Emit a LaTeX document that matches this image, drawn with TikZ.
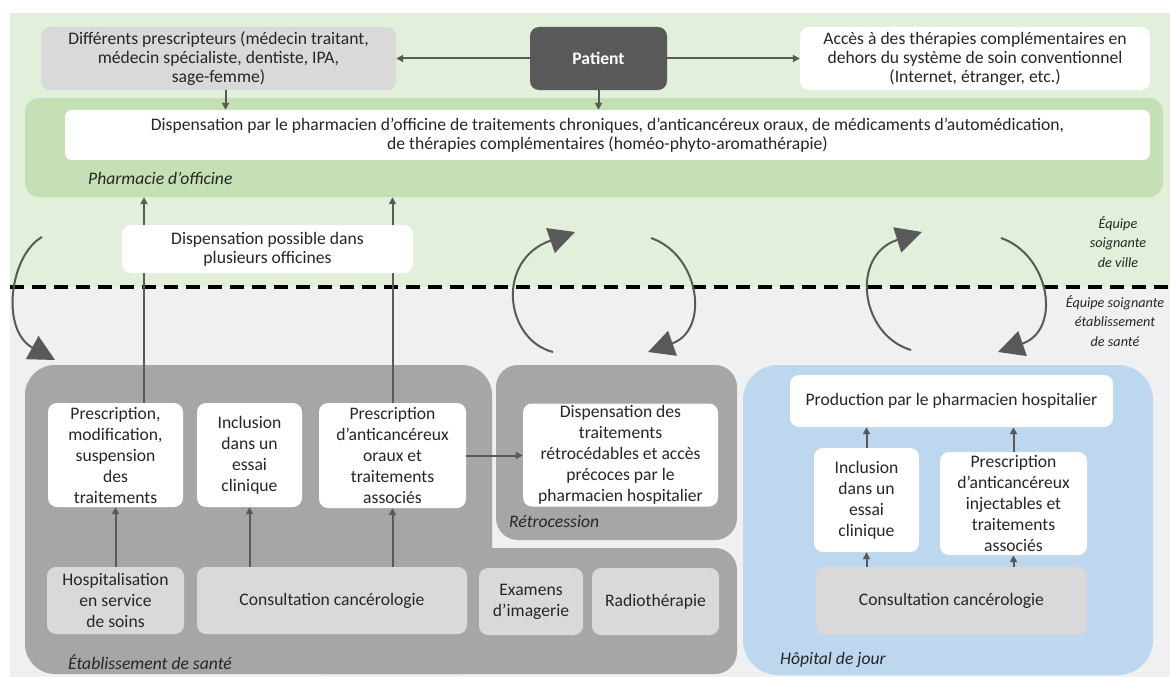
\documentclass[tikz,border=0pt]{standalone}
\usepackage{fontspec}
\setmainfont{Carlito}
\usetikzlibrary{positioning, arrows.meta}

\definecolor{villegreen}{HTML}{E2EFDA}
\definecolor{bandgreen}{HTML}{C5E0B4}
\definecolor{floorgrey}{HTML}{F0F0F0}
\definecolor{etabgrey}{HTML}{A6A6A6}
\definecolor{boxgrey}{HTML}{D9D9D9}
\definecolor{darkbox}{HTML}{595959}
\definecolor{hdjblue}{HTML}{BDD7EE}
\definecolor{arrowgrey}{HTML}{595959}
\definecolor{txtgrey}{HTML}{262626}

\begin{document}
\begin{tikzpicture}[x=1pt, y=-1pt, text=txtgrey, font=\fontsize{17.6}{21}\selectfont,
    whitebox/.style={fill=white, rounded corners=9pt, align=center, inner sep=0pt},
    greybox/.style={fill=boxgrey, rounded corners=9pt, align=center, inner sep=0pt},
    toptext/.style={font=\fontsize{17.6}{19}\selectfont},
    zonelabel/.style={font=\fontsize{17.6}{19}\selectfont\itshape, anchor=west, inner sep=0pt},
    teamlabel/.style={font=\fontsize{14.2}{19.5}\selectfont\itshape, align=center, inner sep=0pt},
    flow/.style={draw=arrowgrey, line width=2pt, -{Triangle[length=7pt,width=7pt]}},
    bigarrow/.style={draw=arrowgrey, line width=2pt, -{Triangle[length=26pt,width=26pt]}}]
    \useasboundingbox (0,0) rectangle (1170,677);
    % ville / etablissement backgrounds
    \fill[villegreen] (10,13) rectangle (1170,287);
    \fill[floorgrey] (10,287) rectangle (1170,677);
    \draw[black, line width=3.5pt, dash pattern=on 14pt off 8pt] (10,287) -- (1170,287);

    % top row
    \node[greybox, toptext, minimum width=355, minimum height=63] (prescr) at (218.5,58.5) {Différents prescripteurs (médecin traitant,\\médecin spécialiste, dentiste, IPA,\\sage-femme)};
    \node[fill=darkbox, rounded corners=9pt, minimum width=137, minimum height=63, text=white, font=\fontsize{17.6}{19}\selectfont\bfseries] (patient) at (598.5,58.5) {Patient};
    \node[whitebox, toptext, minimum width=350, minimum height=63] (acces) at (975,58.5) {Accès à des thérapies complémentaires en\\dehors du système de soin conventionnel\\(Internet, étranger, etc.)};

    % pharmacie d'officine
    \node[fill=bandgreen, rounded corners=14pt, minimum width=1138, minimum height=99, inner sep=0pt] (officine) at (594,147.5) {};
    \node[whitebox, toptext, rounded corners=7pt, minimum width=1085, minimum height=50] (dispoff) at (607.5,135) {Dispensation par le pharmacien d’officine de traitements chroniques, d’anticancéreux oraux, de médicaments d’automédication,\\de thérapies complémentaires (homéo-phyto-aromathérapie)};
    \node[zonelabel] (officinelbl) at (88,178) {Pharmacie d’officine};

    \draw[flow] (patient.west) -- (prescr.east);
    \draw[flow] (patient.east) -- (acces.west);
    \draw[flow] ([xshift=7pt]prescr.south) -- ([xshift=7pt]prescr.south |- dispoff.north);
    \draw[flow] (patient.south) -- (patient.south |- dispoff.north);

    % etablissement de sante
    \fill[etabgrey, rounded corners=30pt] (25,365) rectangle (492,674);
    \fill[etabgrey, rounded corners=22pt] (300,548) rectangle (737,674);
    \fill[etabgrey, rounded corners=22pt] (496,365) rectangle (737,540);
    \fill[hdjblue, rounded corners=35pt] (743,365) rectangle (1153,675);

    \node[whitebox, minimum width=135, minimum height=104] (presc1) at (115.5,455) {Prescription,\\modification,\\suspension\\des\\traitements};
    \node[whitebox, minimum width=105, minimum height=104] (incl1) at (249.5,455) {Inclusion\\dans un\\essai\\clinique};
    \node[whitebox, minimum width=147, minimum height=105] (presc2) at (392.5,455.5) {Prescription\\d’anticancéreux\\oraux et\\traitements\\associés};
    \node[greybox, minimum width=137, minimum height=67] (hospit) at (115.5,600.5) {Hospitalisation\\en service\\de soins};
    \node[greybox, minimum width=270, minimum height=67] (consult1) at (332,600.5) {Consultation cancérologie};
    \node[greybox, minimum width=104, minimum height=67] (examens) at (531,601.5) {Examens\\d’imagerie};
    \node[greybox, minimum width=127, minimum height=67] (radio) at (655.5,601.5) {Radiothérapie};
    \node[zonelabel] (etablbl) at (68,662) {Établissement de santé};

    \node[whitebox, minimum width=195, minimum height=103] (retro) at (620.5,455) {Dispensation des\\traitements\\rétrocédables et accès\\précoces par le\\pharmacien hospitalier};
    \node[zonelabel] (retrolbl) at (509,522) {Rétrocession};

    \draw[flow] (hospit.north) -- (presc1.south);
    \draw[flow] (consult1.north -| incl1.south) -- (incl1.south);
    \draw[flow] (consult1.north -| presc2.south) -- (presc2.south);
    \draw[flow] (presc2.east) -- (presc2.east -| retro.west);
    \draw[flow] ([xshift=28.5pt]presc1.north) -- ([xshift=28.5pt]presc1.north |- officine.south);
    \draw[flow] (presc2.north) -- (presc2.north |- officine.south);

    \node[whitebox, toptext, minimum width=291, minimum height=48] (plusoff) at (267.5,249) {Dispensation possible dans\\plusieurs officines};

    % hopital de jour
    \node[whitebox, minimum width=323, minimum height=52] (prod) at (951.5,401) {Production par le pharmacien hospitalier};
    \node[whitebox, minimum width=105, minimum height=104] (incl2) at (866.5,500) {Inclusion\\dans un\\essai\\clinique};
    \node[whitebox, minimum width=147, minimum height=103] (presc3) at (1013.5,503.5) {Prescription\\d’anticancéreux\\injectables et\\traitements\\associés};
    \node[greybox, minimum width=271, minimum height=68] (consult2) at (951.5,601) {Consultation cancérologie};
    \node[zonelabel] (hdjlbl) at (780,660) {Hôpital de jour};

    \draw[flow] (incl2.north) -- (incl2.north |- prod.south);
    \draw[flow] (presc3.north) -- (presc3.north |- prod.south);
    \draw[flow] (consult2.north -| incl2.south) -- (incl2.south);
    \draw[flow] (consult2.north -| presc3.south) -- (presc3.south);

    % equipes
    \node[teamlabel] (villelbl) at (1118,242) {Équipe\\soignante\\de ville};
    \node[teamlabel] (etabteam) at (1115,321) {Équipe soignante\\établissement\\de santé};

    % curved arrows across the line
    \coordinate (c1s) at (42,237);  \coordinate (c1e) at (55,360);
    \coordinate (c2s) at (553,352); \coordinate (c2e) at (575,232);
    \coordinate (c3s) at (651,238); \coordinate (c3e) at (648,352);
    \coordinate (c4s) at (911,350); \coordinate (c4e) at (922,232);
    \coordinate (c5s) at (1001,238); \coordinate (c5e) at (998,352);
    \draw[bigarrow] (c1s) .. controls (10,255) and (0,330) .. (c1e);
    \draw[bigarrow] (c2s) .. controls (505,340) and (495,260) .. (c2e);
    \draw[bigarrow] (c3s) .. controls (700,255) and (710,330) .. (c3e);
    \draw[bigarrow] (c4s) .. controls (860,335) and (850,255) .. (c4e);
    \draw[bigarrow] (c5s) .. controls (1050,255) and (1062,330) .. (c5e);
\end{tikzpicture}
\end{document}
